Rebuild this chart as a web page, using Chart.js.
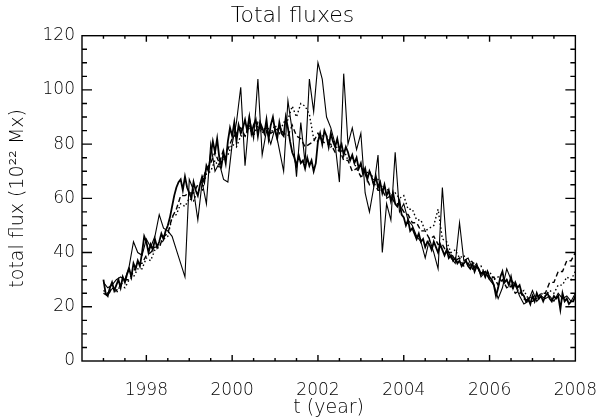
<!DOCTYPE html>
<html>
<head>
<meta charset="utf-8">
<title>Total fluxes</title>
<script src="https://cdn.jsdelivr.net/npm/chart.js@4.4.1/dist/chart.umd.min.js"></script>
<style>
  html, body { margin: 0; padding: 0; background: #fff; }
  canvas { display: block; }
</style>
</head>
<body>
<canvas id="fluxChart" width="616" height="419"></canvas>
<script>
// Total flux curves (units of 1e22 Mx)

// sampling: first year and step of each series
const startYear = 1997;
const stepCoarse = 0.1;   // thin solid, dashed, dotted
const stepFine = 0.05;    // heavy noisy solid

// x axis labels and y axis labels
const yearTicks = [1998, 2000, 2002, 2004, 2006, 2008];
const fluxTicks = [0, 20, 40, 60, 80, 100, 120];

// thin solid, spiky curve (every 0.1 yr)
const thinFlux = [
  29, 27, 28, 30, 31, 30, 35, 44, 40, 39,
  45, 42, 46, 54, 49, 48, 46, 41, 36, 31,
  67, 63, 52, 66, 58, 80, 70, 73, 67, 66,
  80, 88, 101, 72, 90, 82, 104, 76, 85, 80,
  86, 78, 70, 96, 85, 68, 88, 73, 104, 92,
  110, 104, 90, 86, 80, 66, 106, 80, 86, 78,
  84, 62, 55, 64, 76, 40, 58, 52, 77, 55,
  58, 52, 50, 46, 44, 38, 45, 40, 34, 64,
  42, 38, 36, 51, 37, 38, 34, 36, 31, 33,
  30, 28, 23, 27, 34, 30, 28, 24, 21, 22,
  26, 22, 24, 23, 24, 22, 25, 23, 24, 22,
  25
];

// heavy solid, noisy curve (every 0.05 yr)
const heavyFlux = [
  30, 25, 24, 27, 29, 26, 28, 30, 27, 31, 29, 32, 34, 31, 36, 34, 37, 35, 40, 46,
  44, 40, 43, 41, 45, 42, 44, 47, 45, 48, 50, 53, 57, 61, 64, 66, 67, 63, 68, 64,
  62, 60, 66, 63, 61, 65, 68, 66, 72, 70, 76, 81, 77, 82, 75, 72, 77, 73, 81, 86,
  83, 88, 81, 87, 84, 86, 89, 85, 90, 84, 87, 89, 83, 88, 86, 84, 89, 82, 87, 90,
  85, 82, 88, 84, 83, 90, 86, 81, 77, 75, 72, 76, 73, 74, 71, 75, 72, 74, 70, 73,
  81, 84, 80, 85, 83, 79, 84, 81, 79, 82, 78, 80, 76, 79, 77, 74, 76, 73, 75, 71,
  73, 69, 71, 67, 70, 68, 65, 68, 64, 66, 62, 65, 61, 63, 59, 62, 58, 57, 59, 54,
  53, 50, 52, 48, 49, 47, 45, 47, 44, 45, 42, 44, 43, 41, 44, 42, 40, 43, 41, 39,
  41, 38, 39, 37, 38, 36, 37, 35, 36, 37, 35, 34, 36, 33, 35, 34, 32, 33, 31, 33,
  31, 30, 28, 24, 27, 31, 33, 29, 30, 28, 31, 27, 29, 27, 28, 25, 24, 22, 23, 21,
  24, 22, 25, 23, 24, 22, 24, 25, 23, 22, 24, 23, 24, 19, 25, 22, 23, 21, 22, 22,
  24
];

// dashed curve (every 0.1 yr)
const dashedFlux = [
  25, 24, 27, 26, 28, 30, 30, 33, 36, 36,
  39, 40, 42, 42, 46, 47, 53, 56, 61, 61,
  62, 62, 65, 66, 71, 73, 77, 73, 78, 78,
  82, 84, 86, 83, 87, 84, 88, 85, 86, 84,
  85, 86, 84, 83, 87, 83, 82, 79, 80, 81,
  84, 81, 80, 80, 77, 78, 74, 74, 70, 71,
  68, 69, 65, 66, 63, 63, 60, 61, 58, 58,
  55, 54, 51, 51, 48, 48, 45, 46, 43, 43,
  40, 40, 37, 38, 35, 36, 34, 35, 32, 33,
  30, 31, 28, 30, 27, 28, 25, 26, 23, 22,
  22, 23, 25, 25, 29, 29, 33, 33, 37, 37,
  40
];

// dotted curve (every 0.1 yr)
const dottedFlux = [
  26, 25, 27, 25, 28, 27, 30, 31, 34, 34,
  38, 37, 41, 42, 45, 46, 53, 54, 58, 57,
  60, 59, 63, 63, 69, 70, 74, 71, 75, 76,
  80, 79, 83, 83, 86, 83, 87, 84, 87, 84,
  87, 84, 88, 89, 94, 90, 95, 94, 91, 82,
  81, 83, 83, 79, 80, 77, 78, 74, 75, 71,
  72, 69, 70, 67, 67, 64, 64, 61, 62, 60,
  61, 56, 56, 52, 52, 48, 49, 50, 56, 45,
  44, 40, 41, 38, 39, 36, 37, 34, 35, 32,
  33, 30, 31, 29, 30, 27, 28, 25, 26, 23,
  24, 23, 25, 24, 26, 25, 28, 28, 31, 30,
  33
];

function toPoints(values, step) {
  return values.map((v, i) => ({ x: startYear + Math.round(i * step * 100) / 100, y: v }));
}

const labelFont = { family: 'DejaVu Sans', size: 17, weight: 200 };
const textColor = '#000';

// IDL style frame: box on all sides with inward ticks
const framePlugin = {
  id: 'frame',
  afterDatasetsDraw(chart) {
    const { ctx, chartArea: a, scales: { x, y } } = chart;
    ctx.save();
    ctx.strokeStyle = '#000';
    ctx.lineWidth = 1.4;
    ctx.strokeRect(a.left, a.top, a.right - a.left, a.bottom - a.top);
    ctx.beginPath();
    for (let v = 1997; v < 2008; v += 0.5) {
      const px = x.getPixelForValue(v);
      const len = v % 2 === 0 ? 6 : 3;
      ctx.moveTo(px, a.bottom); ctx.lineTo(px, a.bottom - len);
      ctx.moveTo(px, a.top); ctx.lineTo(px, a.top + len);
    }
    for (let v = 5; v < 120; v += 5) {
      const py = y.getPixelForValue(v);
      const len = v % 20 === 0 ? 10 : 5;
      ctx.moveTo(a.left, py); ctx.lineTo(a.left + len, py);
      ctx.moveTo(a.right, py); ctx.lineTo(a.right - len, py);
    }
    ctx.stroke();
    ctx.restore();
  }
};

const ctx = document.getElementById('fluxChart').getContext('2d');
new Chart(ctx, {
  type: 'line',
  data: {
    datasets: [
      { label: 'thin', data: toPoints(thinFlux, stepCoarse), borderColor: '#000', borderWidth: 1.1, pointRadius: 0 },
      { label: 'heavy', data: toPoints(heavyFlux, stepFine), borderColor: '#000', borderWidth: 1.8, pointRadius: 0 },
      { label: 'dashed', data: toPoints(dashedFlux, stepCoarse), borderColor: '#000', borderWidth: 1.4, borderDash: [5, 3], pointRadius: 0 },
      { label: 'dotted', data: toPoints(dottedFlux, stepCoarse), borderColor: '#000', borderWidth: 1.4, borderDash: [1.5, 2.5], pointRadius: 0 }
    ]
  },
  options: {
    responsive: false,
    animation: false,
    layout: { padding: { top: 0, right: 31, bottom: 0, left: 0 } },
    plugins: {
      legend: { display: false },
      tooltip: { enabled: false },
      title: {
        display: true,
        text: 'Total fluxes',
        color: textColor,
        font: { family: 'DejaVu Sans', size: 22, weight: 200 },
        padding: { top: 3, bottom: 6.3 }
      }
    },
    scales: {
      x: {
        type: 'linear',
        min: 1996.5,
        max: 2008,
        grid: { display: false, drawTicks: false },
        border: { display: false },
        afterBuildTicks: s => { s.ticks = yearTicks.map(v => ({ value: v })); },
        afterFit: s => { s.height = 58; },
        ticks: { padding: 19, color: textColor, font: labelFont, maxRotation: 0, autoSkip: false, callback: v => String(v) },
        title: { display: true, text: 't (year)', color: textColor, font: { family: 'DejaVu Sans', size: 19, weight: 200 }, padding: { top: 0, bottom: 0 } }
      },
      y: {
        type: 'linear',
        min: 0,
        max: 120,
        grid: { display: false, drawTicks: false },
        border: { display: false },
        afterBuildTicks: s => { s.ticks = fluxTicks.map(v => ({ value: v })); },
        afterFit: s => { s.width = 82; },
        ticks: { padding: 7, color: textColor, font: labelFont, autoSkip: false },
        title: { display: true, text: 'total flux (10²² Mx)', color: textColor, font: { family: 'DejaVu Sans', size: 19, weight: 200 }, padding: { top: 7, bottom: 0 } }
      }
    }
  },
  plugins: [framePlugin]
});
</script>
</body>
</html>
